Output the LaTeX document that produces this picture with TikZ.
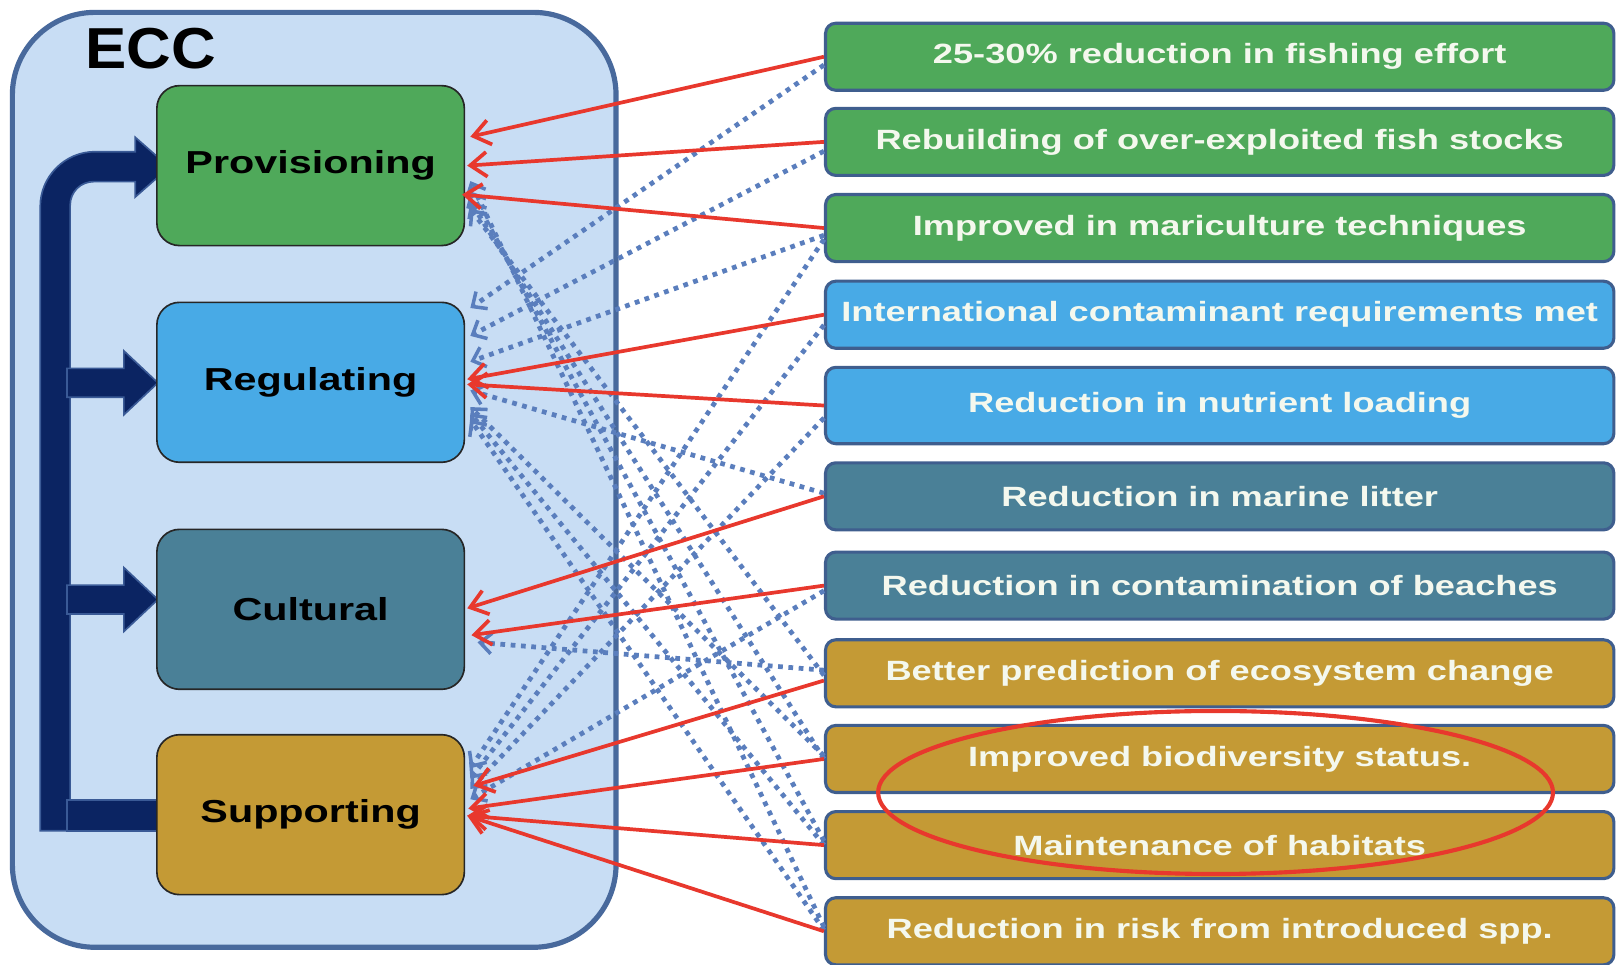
\documentclass[tikz,border=0pt]{standalone}
\usepackage{fontspec}
\setmainfont{Liberation Sans}
\newfontfamily\wf[FakeStretch=1.3]{Liberation Sans}
\newfontfamily\ef[FakeStretch=1.07]{Liberation Sans}
\usetikzlibrary{arrows.meta,calc,shapes.geometric}
\definecolor{eccfill}{HTML}{C8DDF4}
\definecolor{eccline}{HTML}{48699C}
\definecolor{cgreen}{HTML}{4FA95A}
\definecolor{cblue}{HTML}{48AAE6}
\definecolor{cteal}{HTML}{4A8097}
\definecolor{cgold}{HTML}{C49A35}
\definecolor{boxline}{HTML}{3F5E8E}
\definecolor{navy}{HTML}{0B2462}
\definecolor{navyedge}{HTML}{3A5A96}
\definecolor{ared}{HTML}{E8382D}
\definecolor{dotblue}{HTML}{5A7EBD}
\definecolor{offwhite}{HTML}{F4F8EE}
\tikzset{
  lbox/.style={draw=black!85, line width=0.8pt, rounded corners=11pt,
    minimum width=149pt, minimum height=77.5pt, text=black,
    font=\wf\bfseries\fontsize{15.4}{18}\selectfont},
  rbox/.style={draw=boxline, line width=1.5pt, rounded corners=5pt,
    minimum width=382pt, minimum height=32.5pt, text=offwhite, inner sep=2pt,
    font=\wf\bfseries\fontsize{13.5}{16}\selectfont},
  navyshape/.style={fill=navy, draw=navyedge, line width=0.8pt},
  redarr/.style={draw=ared, line width=1.8pt, -{Straight Barb[length=8pt,width=12pt]}},
  dotarr/.style={draw=dotblue, line width=2.3pt, dash pattern=on 2.3pt off 2.7pt,
    -{Straight Barb[length=5.5pt,width=10pt,line width=1.7pt]}},
  hilite/.style={draw=ared, line width=2pt, ellipse, minimum width=327pt, minimum height=79pt}
}
\begin{document}
\begin{tikzpicture}[x=0.5pt,y=-0.5pt]
\useasboundingbox (0,0) rectangle (1568,935);
% container
\node[draw=eccline, line width=2.5pt, fill=eccfill, rounded corners=40pt,
  minimum width=292.5pt, minimum height=453pt, inner sep=0pt] (ecc) at (304.5,465) {};
\node[font=\ef\bfseries\fontsize{28}{32}\selectfont] (ecct) at (146,47) {ECC};
% navy flow arrows
\path[navyshape] (39,805) -- (39,200) .. controls (39,171) and (63,147) .. (92,147)
  -- (131,147) -- (131,133) -- (164,162) -- (131,191) -- (131,176) -- (91,176)
  .. controls (78,176) and (68,186) .. (68,199) -- (68,805) -- cycle;
\path[navyshape] (65,357) -- (120,357) -- (120,340) -- (153,371) -- (120,402) -- (120,385) -- (65,385) -- cycle;
\path[navyshape] (65,567) -- (120,567) -- (120,550) -- (153,581) -- (120,612) -- (120,595) -- (65,595) -- cycle;
\path[navyshape] (65,775) rectangle (152,805);
% service boxes
\node[lbox, fill=cgreen] (prov) at (301,160.5) {Provisioning};
\node[lbox, fill=cblue] (reg) at (301,370.5) {Regulating};
\node[lbox, fill=cteal] (cult) at (301,590.5) {Cultural};
\node[lbox, fill=cgold] (sup) at (301,789.5) {Supporting};
% outcome boxes
\node[rbox, fill=cgreen] (b1) at (1182,55) {25-30\% reduction in fishing effort};
\node[rbox, fill=cgreen] (b2) at (1182,137.5) {Rebuilding of over-exploited fish stocks};
\node[rbox, fill=cgreen] (b3) at (1182,221) {Improved in mariculture techniques};
\node[rbox, fill=cblue] (b4) at (1182,305) {International contaminant requirements met};
\node[rbox, fill=cblue, minimum height=37pt] (b5) at (1182,393) {Reduction in nutrient loading};
\node[rbox, fill=cteal] (b6) at (1182,481) {Reduction in marine litter};
\node[rbox, fill=cteal] (b7) at (1182,567.5) {Reduction in contamination of beaches};
\node[rbox, fill=cgold] (b8) at (1182,652.5) {Better prediction of ecosystem change};
\node[rbox, fill=cgold] (b9) at (1182,735.5) {Improved biodiversity status.};
\node[rbox, fill=cgold] (b10) at (1182,819) {Maintenance of habitats};
\node[rbox, fill=cgold] (b11) at (1182,902.5) {Reduction in risk from introduced spp.};
% dotted links
\draw[dotarr] ($(b1.west)+(0,8)$) -- ($(reg.east)+(5,-72)$);
\draw[dotarr] ($(b2.west)+(0,9)$) -- ($(reg.east)+(5,-45)$);
\draw[dotarr] ($(b3.west)+(0,7)$) -- ($(reg.east)+(5,-20)$);
\draw[dotarr] ($(b3.west)+(0,11)$) -- ($(sup.east)+(5,-45)$);
\draw[dotarr] ($(b4.west)+(0,10)$) -- ($(sup.east)+(5,-35)$);
\draw[dotarr] ($(b5.west)+(0,12)$) -- ($(sup.east)+(5,-25)$);
\draw[dotarr] ($(b6.west)+(0,-3)$) -- ($(reg.east)+(5,8)$);
\draw[dotarr] ($(b7.west)+(0,5)$) -- ($(sup.east)+(5,-15)$);
\draw[dotarr] ($(b8.west)+(0,-3)$) -- ($(cult.east)+(12,32)$);
\draw[dotarr] ($(b8.west)+(0,2)$) -- ($(prov.east)+(5,42)$);
\draw[dotarr] ($(b9.west)+(0,-3)$) -- ($(reg.east)+(5,24)$);
\draw[dotarr] ($(b9.west)+(0,0)$) -- ($(prov.east)+(5,35)$);
\draw[dotarr] ($(b10.west)+(0,-4)$) -- ($(prov.east)+(5,25)$);
\draw[dotarr] ($(b10.west)+(0,0)$) -- ($(reg.east)+(5,30)$);
\draw[dotarr] ($(b11.west)+(0,-4)$) -- ($(prov.east)+(5,15)$);
\draw[dotarr] ($(b11.west)+(0,-1)$) -- ($(reg.east)+(5,36)$);
% red links
\draw[redarr] (b1.west) -- ($(prov.east)+(5,-28)$);
\draw[redarr] (b2.west) -- ($(prov.east)+(2,0)$);
\draw[redarr] (b3.west) -- ($(prov.east)+(-3,28)$);
\draw[redarr] (b4.west) -- ($(reg.east)+(2,-3)$);
\draw[redarr] (b5.west) -- ($(reg.east)+(2,2)$);
\draw[redarr] (b6.west) -- ($(cult.east)+(2,-1)$);
\draw[redarr] (b7.west) -- ($(cult.east)+(6,25)$);
\draw[redarr] ($(b8.west)+(0,7)$) -- ($(sup.east)+(8,-28)$);
\draw[redarr] (b9.west) -- ($(sup.east)+(3,-6)$);
\draw[redarr] (b10.west) -- ($(sup.east)+(2,1)$);
\draw[redarr] (b11.west) -- ($(sup.east)+(2,1)$);
% highlight
\node[hilite] (hl) at (1178,768) {};
\end{tikzpicture}
\end{document}
